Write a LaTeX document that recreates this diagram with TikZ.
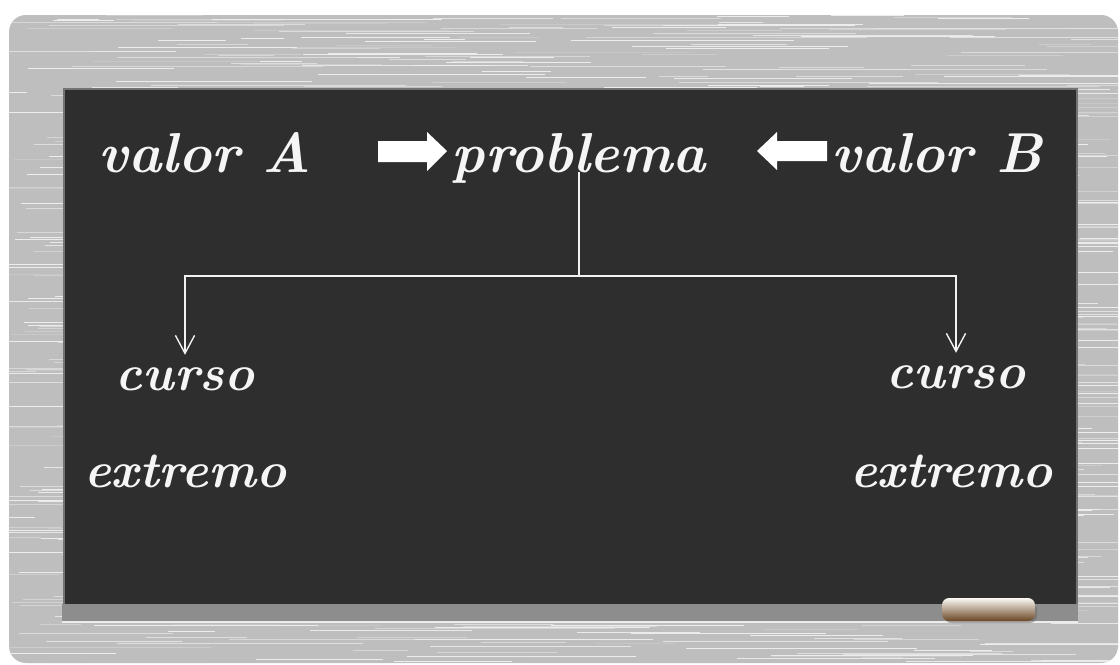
\documentclass[tikz,border=0pt]{standalone}
\usepackage{tikz}
\usetikzlibrary{arrows.meta}
\usepackage{xcolor}

\definecolor{moldura}{HTML}{BEBEBE}
\definecolor{lousa}{HTML}{2E2E2E}
\definecolor{apoio}{HTML}{8D8D8D}

\tikzset{
    giz/.style={text=white!92!gray, inner sep=0pt, font=\bfseries\itshape\fontsize{40}{44}\selectfont},
    gizmenor/.style={giz, font=\bfseries\itshape\fontsize{36}{40}\selectfont},
    linha/.style={draw=white!90!gray, line width=1pt},
    seta/.style={linha, shorten >=0.3cm, -{Straight Barb[length=4.5mm, width=4.8mm, line width=1pt]}}
}

\begin{document}
\begin{tikzpicture}[x={(0.025cm,0)}, y={(0,-0.025cm)}]
    \useasboundingbox (0,0) rectangle (1120,665);

    % Moldura
    \fill[moldura] (9,15) [rounded corners=12] rectangle (1118,663);
    \begin{scope}
        \clip (9,15) [rounded corners=12] rectangle (1118,663);
        \pgfmathsetseed{7}
        \foreach \i in {1,...,700} {
            \pgfmathsetmacro{\yy}{15+rnd*650}
            \pgfmathsetmacro{\xx}{-40+rnd*1120}
            \pgfmathsetmacro{\cc}{15+rnd*30}
            \draw[gray!\cc!white, line width=0.5pt] (\xx,\yy) -- ++(40+rnd*220,0);
        }
        \foreach \i in {1,...,300} {
            \pgfmathsetmacro{\yy}{15+rnd*650}
            \pgfmathsetmacro{\xx}{-40+rnd*1120}
            \draw[white!85!gray, line width=0.6pt] (\xx,\yy) -- ++(40+rnd*200,0);
        }
    \end{scope}

    % Lousa
    \fill[black!55] (63,88) rectangle (1078,607);
    \fill[lousa] (65,90) rectangle (1076,606);

    % Apoio do giz
    \fill[apoio] (62,605) rectangle (1078,621);
    \draw[black!45, line width=0.8pt] (62,605) -- (1078,605);
    \draw[white!85!gray, line width=1pt] (62,622) -- (1078,622);

    % Giz
    \fill[black!60, opacity=0.5] (944,603) [rounded corners=5] rectangle (1037,623);
    \shade[top color=white!95!brown, middle color=white!85!brown, bottom color=brown!55!black, rounded corners=5]
        (942,598) rectangle (1035,621);

    % Textos
    \node[giz, anchor=base] (valorA) at (205,172) {valor A};
    \node[giz, anchor=base] (problema) at (579,172) {problema};
    \node[giz, anchor=base] (valorB) at (937,172) {valor B};
    \node[gizmenor, anchor=base] (cursoE) at (185,390) {curso};
    \node[gizmenor, anchor=base] (extremoE) at (185,487) {extremo};
    \node[gizmenor, anchor=base] (cursoD) at (956,388) {curso};
    \node[gizmenor, anchor=base] (extremoD) at (951,487) {extremo};

    % Setas largas
    \fill[white] (378,141) -- (427,141) -- (427,132) -- (447,151) -- (427,171) -- (427,162) -- (378,162) -- cycle;
    \fill[white] (827,141) -- (777,141) -- (777,132) -- (757,151) -- (777,170) -- (777,161) -- (827,161) -- cycle;

    % Ramos
    \coordinate (bif) at (579,276);
    \draw[linha] (problema.base) -- (bif);
    \draw[seta] (bif) -| (cursoE.north);
    \draw[seta] (bif) -| (cursoD.north);
\end{tikzpicture}
\end{document}
